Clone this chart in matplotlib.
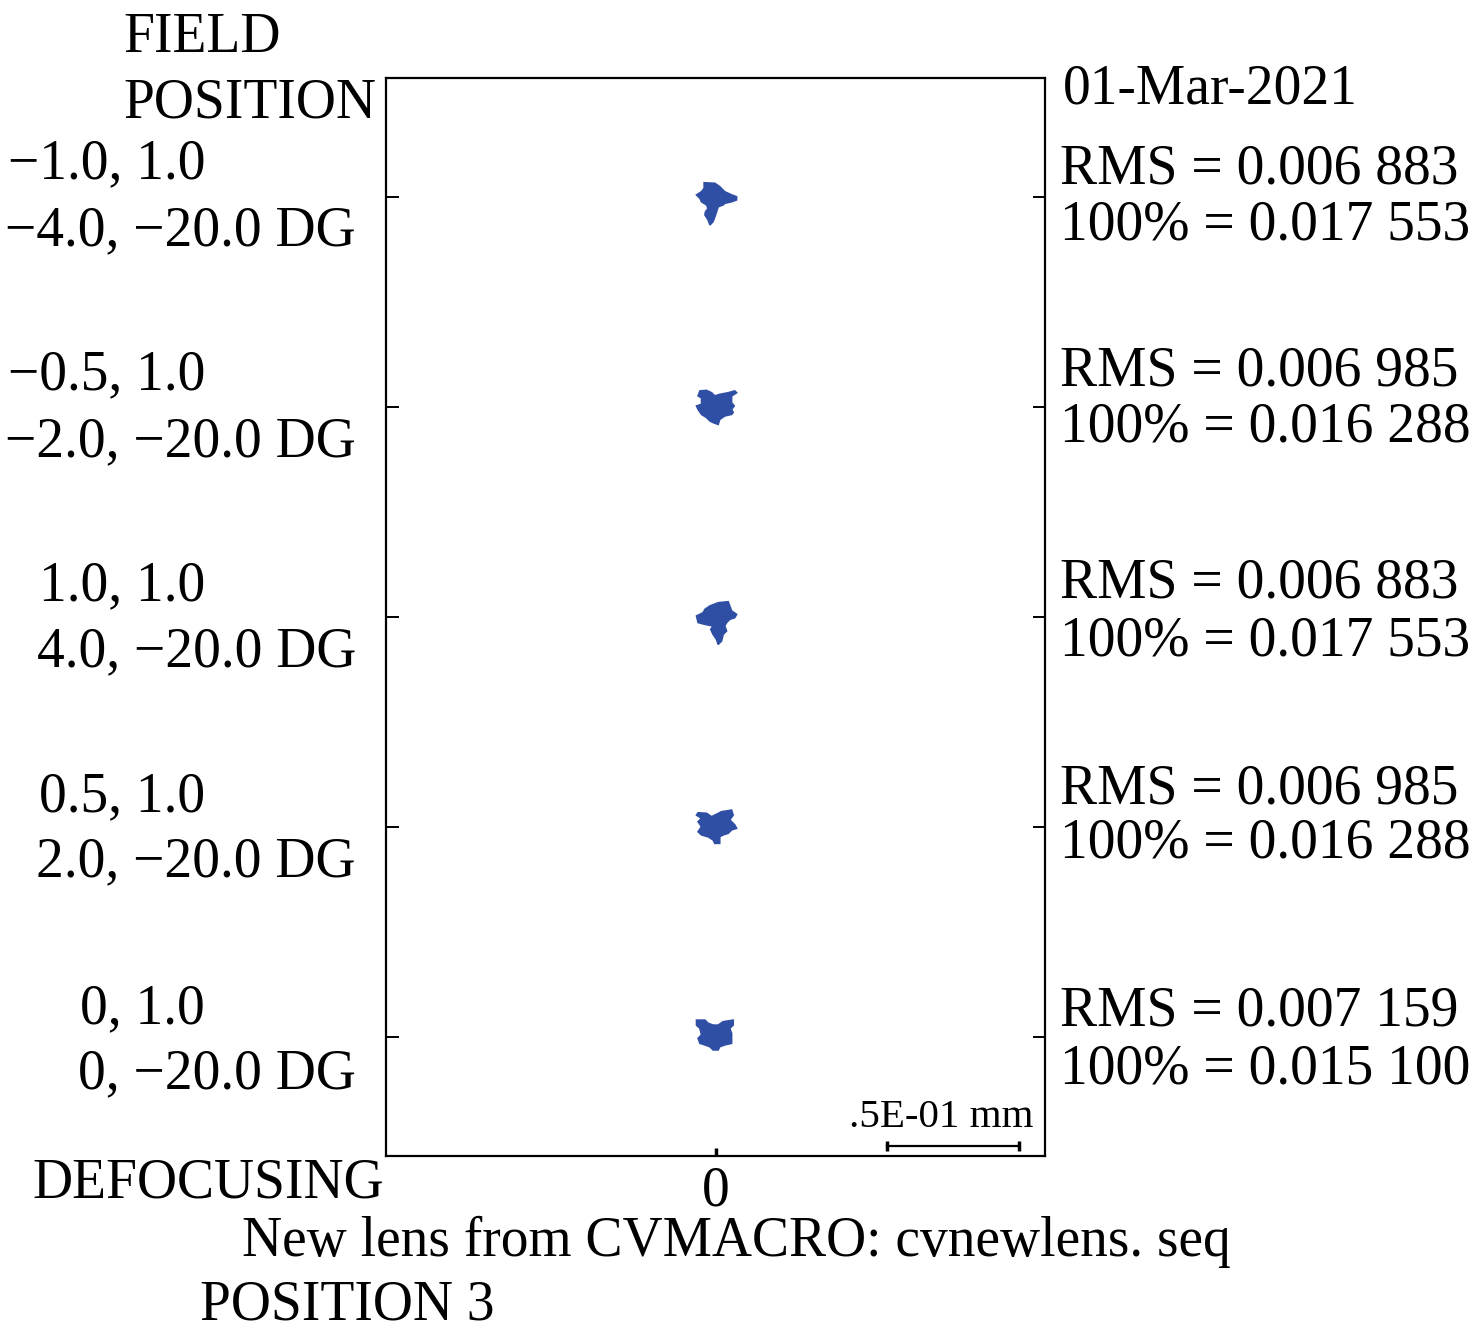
import numpy as np
import matplotlib.pyplot as plt
from matplotlib.patches import Polygon

plt.rcParams['font.family'] = ['Liberation Serif', 'DejaVu Serif']

# field rows, top to bottom
fields = ["\u22121.0, 1.0", "\u22120.5, 1.0", "1.0, 1.0", "0.5, 1.0", "0, 1.0"]
angles = ["\u22124.0, \u221220.0 DG", "\u22122.0, \u221220.0 DG", "4.0, \u221220.0 DG",
          "2.0, \u221220.0 DG", "0, \u221220.0 DG"]
rms = ["0.006 883", "0.006 985", "0.006 883", "0.006 985", "0.007 159"]
p100 = ["0.017 553", "0.016 288", "0.017 553", "0.016 288", "0.015 100"]

# spot outlines, offsets from chief ray in micrometres (x, y)
spot_m10 = [(-4.3, 5.4), (-0.25, 5.2), (1.6, 3.9), (3.5, 2.0), (6.1, 0.8), (8.0, 0.1),
            (8.0, -1.1), (6.1, -1.8), (3.5, -2.4), (2.9, -3.0), (1.0, -3.7), (0.4, -5.6),
            (-0.25, -7.5), (-0.9, -9.3), (-2.1, -10.6), (-2.8, -8.7), (-4.0, -6.8),
            (-3.8, -5.6), (-2.8, -4.3), (-3.4, -3.0), (-5.3, -1.8), (-5.9, -0.5),
            (-7.2, 0.8), (-5.3, 2.0), (-4.3, 3.3)]
spot_m05 = [(-5.9, 6.1), (-3.4, 6.3), (-1.5, 5.4), (-0.25, 4.2), (1.6, 4.8), (4.8, 5.4),
            (7.3, 6.1), (8.0, 5.4), (6.1, 4.2), (6.1, 1.6), (7.1, 0.4), (6.1, -0.9),
            (6.7, -2.1), (6.1, -2.8), (3.5, -3.4), (1.6, -4.7), (1.0, -6.6), (-0.9, -5.9),
            (-2.1, -5.3), (-3.4, -4.0), (-5.3, -2.8), (-6.6, -0.9), (-7.2, 0.4),
            (-5.3, 1.0), (-5.3, 3.5), (-6.6, 4.2)]
spot_p10 = [(-2.1, 4.2), (1.0, 5.4), (4.8, 5.8), (5.4, 4.2), (6.1, 2.3), (8.0, 1.0),
            (7.3, -0.25), (5.4, -0.9), (4.2, -2.1), (3.5, -3.4), (4.2, -5.3), (2.9, -6.6),
            (2.3, -9.1), (1.0, -10.4), (0.4, -8.5), (-0.9, -6.6), (-1.8, -4.7),
            (-0.9, -3.4), (-4.0, -2.8), (-6.6, -2.1), (-7.2, 0.4), (-4.7, 1.6), (-4.0, 2.9)]
spot_p05 = [(-6.6, 5.4), (-3.4, 5.2), (-1.5, 3.9), (-0.25, 4.5), (2.3, 5.8), (6.1, 6.4),
            (6.7, 4.5), (5.4, 2.7), (7.3, 0.8), (8.0, -0.5), (6.1, -1.1), (4.8, -2.4),
            (2.9, -3.0), (1.6, -3.7), (1.6, -6.2), (-0.25, -6.2), (-0.9, -4.9),
            (-2.8, -3.7), (-5.3, -3.0), (-6.6, -1.8), (-5.3, 0.1), (-6.6, 2.0),
            (-5.3, 3.3), (-7.2, 4.5)]
spot_00 = [(-7.2, 6.4), (-4.0, 6.4), (-2.8, 5.2), (-0.9, 4.5), (1.0, 4.5), (2.9, 5.8),
           (6.7, 6.4), (6.7, 4.5), (5.4, 3.3), (6.1, 1.4), (6.1, -2.4), (3.5, -3.0),
           (1.6, -3.7), (1.0, -4.9), (-0.9, -4.9), (-2.1, -3.7), (-4.0, -3.0),
           (-5.9, -2.4), (-6.6, -0.5), (-5.3, 0.8), (-5.9, 3.3), (-7.2, 4.5)]
spots = [spot_m10, spot_m05, spot_p10, spot_p05, spot_00]

W, H = 1476, 1343
fig = plt.figure(figsize=(W / 100, H / 100), dpi=100)
ax = fig.add_axes([386 / W, 1 - 1156 / H, 659 / W, 1078 / H])

pitch = 210 / 2636.0  # mm between rows
half_w = 0.125
margin = 119 / 2636.0
nrow = len(fields)
rows_y = [(nrow - 1 - i) * pitch for i in range(nrow)]

for i, pts in enumerate(spots):
    xy = np.array(pts) / 1000.0
    xy[:, 1] += rows_y[i]
    ax.add_patch(Polygon(xy, closed=True, facecolor='#2f4fa5', edgecolor='#2f4fa5', lw=1.2))

ax.set_xlim(-half_w, half_w)
ax.set_ylim(-margin, rows_y[0] + margin)

for s in ax.spines.values():
    s.set_linewidth(1.6)
ax.set_yticks(rows_y)
ax.set_yticklabels([])
ax.tick_params(axis='y', direction='in', length=9, width=1.4, left=True, right=True)
ax.set_xticks([0])
ax.set_xticklabels(['0'], fontsize=40)
ax.tick_params(axis='x', direction='in', length=6, width=2.5, pad=7, top=False)

# scale bar .05 mm
bar_y = -margin + 10 / 2636.0
ax.plot([0.0651, 0.1151], [bar_y, bar_y], color='black', lw=1.6, marker='|', ms=7, mew=2.5)


def ftext(x, y, s, **kw):
    kw.setdefault('fontsize', 40)
    kw.setdefault('va', 'baseline')
    fig.text(x / W, 1 - y / H, s, **kw)


ftext(123, 52, "FIELD")
ftext(123, 117, "POSITION")
ftext(1063, 104, "01-Mar-2021")

left1 = [178, 389, 600, 811, 1023]
left2 = [245, 456, 666, 876, 1088]
right1 = [183, 385, 598, 803, 1025]
right2 = [240, 442, 655, 858, 1083]
for i in range(nrow):
    ftext(205, left1[i], fields[i], ha='right')
    ftext(356, left2[i], angles[i], ha='right')
    ftext(1060, right1[i], "RMS = " + rms[i])
    ftext(1060, right2[i], "100% = " + p100[i])

ftext(1033, 1127, ".5E-01 mm", ha='right', fontsize=29.5)
ftext(32, 1198, "DEFOCUSING")
ftext(242, 1256, "New lens from CVMACRO: cvnewlens. seq")
ftext(200, 1320, "POSITION 3")

fig.savefig("out.png", dpi=100)
